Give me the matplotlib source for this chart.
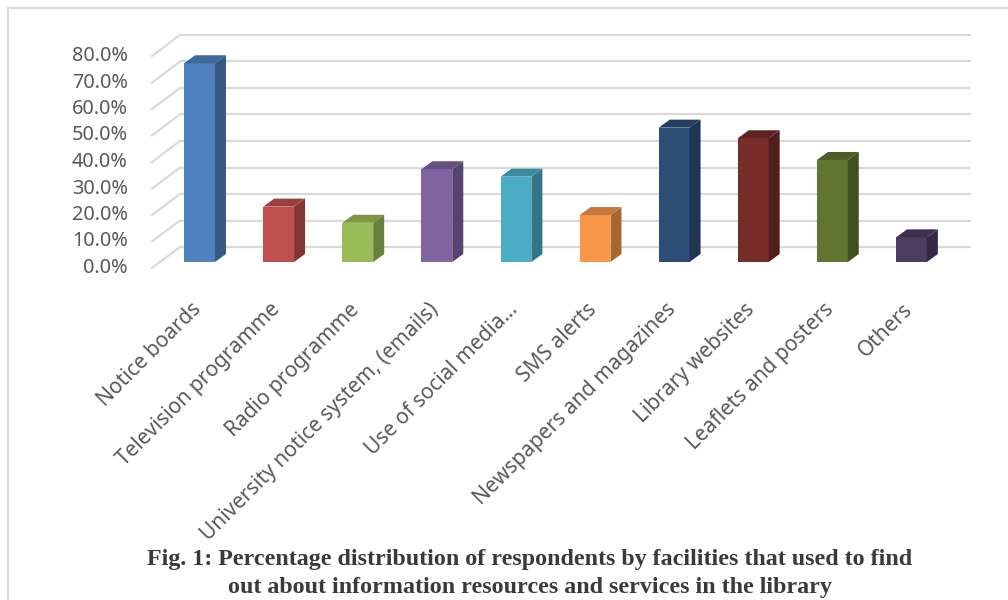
import matplotlib
matplotlib.use("Agg")
import matplotlib.pyplot as plt
import matplotlib.transforms as mtransforms
from matplotlib.colors import to_rgb
from matplotlib.lines import Line2D
from matplotlib.patches import Polygon

categories = [
    "Notice boards",
    "Television programme",
    "Radio programme",
    "University notice system, (emails)",
    "Use of social media…",
    "SMS alerts",
    "Newspapers and magazines",
    "Library websites",
    "Leaflets and posters",
    "Others",
]
values = [75.0, 20.9, 14.8, 35.0, 32.2, 17.7, 50.7, 46.7, 38.5, 9.3]
colors = ["#4F81BD", "#C0504D", "#9BBB59", "#8064A2", "#4BACC6",
          "#F79646", "#2C4D75", "#772C2A", "#5F7530", "#4D3B62"]
y_ticks = [0, 10, 20, 30, 40, 50, 60, 70, 80]
caption = [
    "Fig. 1: Percentage distribution of respondents by facilities that used to find",
    "out about information resources and services in the library",
]

W, H, DPI = 1008, 600, 100
GRID = "#d9d9d9"
TXT = "#595959"
BW = 0.39
DEPTH = (11, 8)

plt.rcParams["font.family"] = ["Noto Sans", "DejaVu Sans"]

fig = plt.figure(figsize=(W / DPI, H / DPI), dpi=DPI)
ax = fig.add_axes([160 / W, 338 / H, 791 / W, 212 / H])
ax.set_xlim(-0.5, 9.5)
ax.set_ylim(0, 80)
ax.axis("off")

ident = mtransforms.IdentityTransform()
back = mtransforms.offset_copy(ax.transData, fig=fig, x=20, y=15, units="dots")
front = mtransforms.offset_copy(ax.transData, fig=fig, x=-8, y=-6, units="dots")
tick_tr = mtransforms.offset_copy(ax.transData, fig=fig, x=-32, y=-6, units="dots")
cat_tr = mtransforms.offset_copy(ax.transData, fig=fig, x=-9, y=-37, units="dots")

# back wall gridlines and side wall diagonals
for t in y_ticks:
    ax.plot([-0.5, 9.5], [t, t], transform=back, color=GRID, lw=1.6,
            zorder=1, clip_on=False, solid_capstyle="butt")
    p0 = front.transform((-0.5, t))
    p1 = back.transform((-0.5, t))
    ax.add_line(Line2D([p0[0], p1[0]], [p0[1], p1[1]], transform=ident,
                       color=GRID, lw=1.6, zorder=1, clip_on=False))
    ax.text(-0.5, t, f"{t:.1f}%", transform=tick_tr, ha="right", va="center",
            fontsize=14.3, color=TXT)


def shade(c, f):
    r, g, b = to_rgb(c)
    return (r * f, g * f, b * f)


xs = list(range(len(categories)))
ax.bar(xs, values, width=BW, color=colors, zorder=3, clip_on=False)

dx, dy = DEPTH
for x, v, c in zip(xs, values, colors):
    xl, y0 = ax.transData.transform((x - BW / 2, 0))
    xr, yv = ax.transData.transform((x + BW / 2, v))
    side = [(xr, y0), (xr, yv), (xr + dx, yv + dy), (xr + dx, y0 + dy)]
    top = [(xl, yv), (xr, yv), (xr + dx, yv + dy), (xl + dx, yv + dy)]
    ax.add_patch(Polygon(side, closed=True, transform=ident, color=shade(c, 0.68),
                         lw=0, zorder=3, clip_on=False))
    ax.add_patch(Polygon(top, closed=True, transform=ident, color=shade(c, 0.8),
                         lw=0, zorder=3, clip_on=False))

for x, name in zip(xs, categories):
    ax.text(x, 0, name, transform=cat_tr, rotation=45, rotation_mode="anchor",
            ha="right", va="top", fontsize=15, color=TXT)

# caption
for i, line in enumerate(caption):
    fig.text(530 / W, 1 - (560 + 27 * i) / H, line, ha="center", va="center",
             family="Liberation Serif", weight="bold", fontsize=17.3, color="#3a3a3a")

# frame (top and left edge)
fig.add_artist(Line2D([8 / W, 1], [1 - 8 / H, 1 - 8 / H], transform=fig.transFigure,
                      color=GRID, lw=1.5))
fig.add_artist(Line2D([8 / W, 8 / W], [0, 1 - 8 / H], transform=fig.transFigure,
                      color=GRID, lw=1.5))

fig.savefig("out.png", dpi=DPI, facecolor="white")
